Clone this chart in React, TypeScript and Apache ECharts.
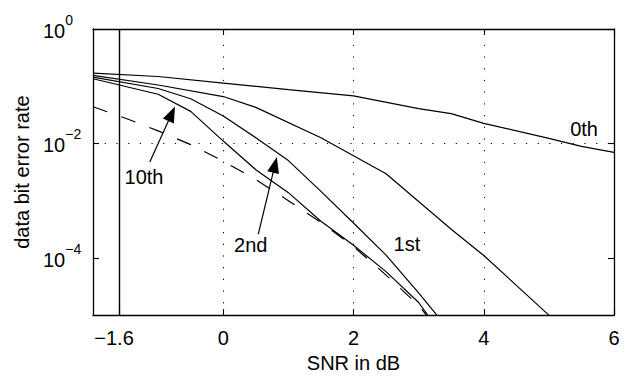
import React, { useEffect, useRef } from "react";
import * as echarts from "echarts";

// SNR (dB) sample points and bit error rates
const snr0 = [-2, -1, 0, 1, 2, 3, 3.5, 4, 5, 5.5, 6];
const ber0 = [0.17, 0.148, 0.1135, 0.087, 0.0676, 0.0407, 0.0331, 0.0224, 0.0123, 0.0089, 0.007];

const snr1 = [-2, -1, 0, 0.5, 1.5, 2.5, 3.5, 4, 5];
const ber1 = [0.155, 0.105, 0.066, 0.0427, 0.0126, 0.00295, 0.000316, 0.00011, 0.00001];

const snr2 = [-2, -1, -0.5, 0, 0.5, 1, 1.5, 2, 2.5, 3, 3.28];
const ber2 = [0.1445, 0.0912, 0.0603, 0.0302, 0.0126, 0.00501, 0.00145, 0.000407, 0.000112, 0.0000245, 0.00001];

const snr10 = [-2, -1, -0.5, 0, 0.5, 1, 1.5, 2, 2.5, 3, 3.14];
const ber10 = [0.135, 0.0724, 0.0363, 0.011, 0.00347, 0.00138, 0.000437, 0.000166, 0.0000575, 0.0000166, 0.00001];

const snrBound = [-2, -1.5, -1, -0.5, 0, 0.5, 1, 1.5, 2, 2.5, 3, 3.12];
const berBound = [0.0437, 0.0275, 0.0166, 0.00955, 0.0049, 0.00234, 0.001, 0.000417, 0.000158, 0.00005, 0.0000148, 0.00001];

const xTicks = [-1.6, 0, 2, 4, 6];
const yTicks = [0.0001, 0.01, 1];
const xGrid = [-1.6, 0, 2, 4];
const yGrid = [0.01, 0.0001];
const shannonLimit = -1.6;

// curve labels: [text, snr, ber]
const labels: [string, number, number][] = [
  ["0th", 5.54, 0.0178],
  ["1st", 2.82, 0.000178],
  ["2nd", 0.423, 0.000166],
  ["10th", -1.217, 0.00264],
];
// arrows: [tailSnr, tailBer, headSnr, headBer]
const arrows: [number, number, number, number][] = [
  [-1.128, 0.00472, -0.792, 0.0331],
  [0.538, 0.000261, 0.794, 0.00423],
];

const FONT = "'Liberation Sans', Arial, Helvetica, sans-serif";

const pairs = (xs: number[], ys: number[]) => xs.map((x, i) => [x, ys[i]]);

export default function App() {
  const ref = useRef<HTMLDivElement>(null);
  useEffect(() => {
    const chart = echarts.init(ref.current!, undefined, { renderer: "svg" });
    const lineStyle = { color: "#000", width: 1.2 };
    const axisLineStyle = { color: "#000", width: 1.3 };
    const tickStyle = { color: "#000", width: 1.1 };
    const dotted = { color: "#000", width: 1, type: [1.2, 10.5] as any };

    const markLineData: any[] = [];
    xGrid.forEach((v) => markLineData.push({ xAxis: v, lineStyle: dotted }));
    yGrid.forEach((v) => markLineData.push({ yAxis: v, lineStyle: dotted }));
    markLineData.push({ xAxis: shannonLimit, lineStyle: { color: "#000", width: 1.4, type: "solid" } });
    arrows.forEach(([x1, y1, x2, y2]) =>
      markLineData.push([
        { coord: [x1, y1], symbol: "none" },
        { coord: [x2, y2], symbol: "triangle", symbolSize: [12, 16], itemStyle: { color: "#000" }, lineStyle: { color: "#000", width: 1.2, type: "solid" } },
      ])
    );

    const xLabelFmt = (v: number) => (v < 0 ? "{m|\u2212" + Math.abs(v) + "}" : String(v));
    const yLabelFmt = (v: number) => {
      const e = Math.round(Math.log10(v));
      return "{b|10}{s|" + (e === 0 ? "0" : "\u2212" + -e) + "}";
    };

    chart.setOption({
      animation: false,
      backgroundColor: "#fff",
      textStyle: { fontFamily: FONT },
      grid: { left: 93, right: 18, top: 29, bottom: 56 },
      xAxis: [
        {
          type: "value",
          min: -2,
          max: 6,
          position: "bottom",
          axisLine: { onZero: false, lineStyle: axisLineStyle },
          axisTick: { inside: true, length: 6, customValues: xTicks, lineStyle: tickStyle },
          axisLabel: {
            customValues: xTicks,
            formatter: xLabelFmt,
            fontSize: 20,
            color: "#000",
            margin: 13,
            fontFamily: FONT,
            rich: { m: { fontSize: 20, color: "#000", fontFamily: FONT, padding: [0, 10, 0, 0] } },
          },
          splitLine: { show: false },
          name: "SNR in dB",
          nameLocation: "middle",
          nameGap: 35,
          nameTextStyle: { fontSize: 20, color: "#000", fontFamily: FONT },
        },
        {
          type: "value",
          min: -2,
          max: 6,
          position: "top",
          axisLine: { onZero: false, lineStyle: axisLineStyle },
          axisTick: { inside: true, length: 6, customValues: xTicks, lineStyle: tickStyle },
          axisLabel: { show: false },
          splitLine: { show: false },
        },
      ],
      yAxis: [
        {
          type: "log",
          logBase: 10,
          min: 0.00001,
          max: 1,
          position: "left",
          axisLine: { onZero: false, lineStyle: axisLineStyle },
          axisTick: { inside: true, length: 6, customValues: yTicks, lineStyle: tickStyle },
          axisLabel: {
            customValues: yTicks,
            formatter: yLabelFmt,
            align: "left",
            margin: 50,
            padding: [4, 0, 0, 0],
            color: "#000",
            rich: {
              b: { fontSize: 20, lineHeight: 20, verticalAlign: "bottom", color: "#000", fontFamily: FONT },
              s: { fontSize: 14, lineHeight: 14, verticalAlign: "bottom", padding: [0, 0, 14, 0], color: "#000", fontFamily: FONT },
            },
          },
          splitLine: { show: false },
          name: "data bit error rate",
          nameLocation: "middle",
          nameGap: 56,
          nameTextStyle: { fontSize: 20, color: "#000", fontFamily: FONT },
        },
        {
          type: "log",
          logBase: 10,
          min: 0.00001,
          max: 1,
          position: "right",
          axisLine: { onZero: false, lineStyle: axisLineStyle },
          axisTick: { inside: true, length: 6, customValues: yTicks, lineStyle: tickStyle },
          axisLabel: { show: false },
          splitLine: { show: false },
        },
      ],
      series: [
        {
          name: "0th",
          type: "line",
          data: pairs(snr0, ber0),
          showSymbol: false,
          lineStyle,
          silent: true,
          markLine: {
            silent: true,
            symbol: "none",
            label: { show: false },
            emphasis: { disabled: true },
            data: markLineData,
          },
          markPoint: {
            silent: true,
            symbol: "circle",
            symbolSize: 1,
            itemStyle: { color: "rgba(0,0,0,0)" },
            label: {
              show: true,
              position: "inside",
              formatter: (p: any) => p.name,
              fontSize: 20,
              color: "#000",
              fontFamily: FONT,
            },
            data: labels.map(([t, x, y]) => ({ name: t, coord: [x, y], value: t })),
          },
        },
        { name: "1st", type: "line", data: pairs(snr1, ber1), showSymbol: false, lineStyle, silent: true },
        { name: "2nd", type: "line", data: pairs(snr2, ber2), showSymbol: false, lineStyle, silent: true },
        { name: "10th", type: "line", data: pairs(snr10, ber10), showSymbol: false, lineStyle, silent: true },
        {
          name: "bound",
          type: "line",
          data: pairs(snrBound, berBound),
          showSymbol: false,
          lineStyle: { color: "#000", width: 1.2, type: [15, 15] },
          silent: true,
        },
      ],
    });
    return () => chart.dispose();
  }, []);
  return (
    <div
      ref={ref}
      style={{ position: "fixed", left: 0, top: 0, width: 632, height: 378, background: "#fff" }}
    />
  );
}
